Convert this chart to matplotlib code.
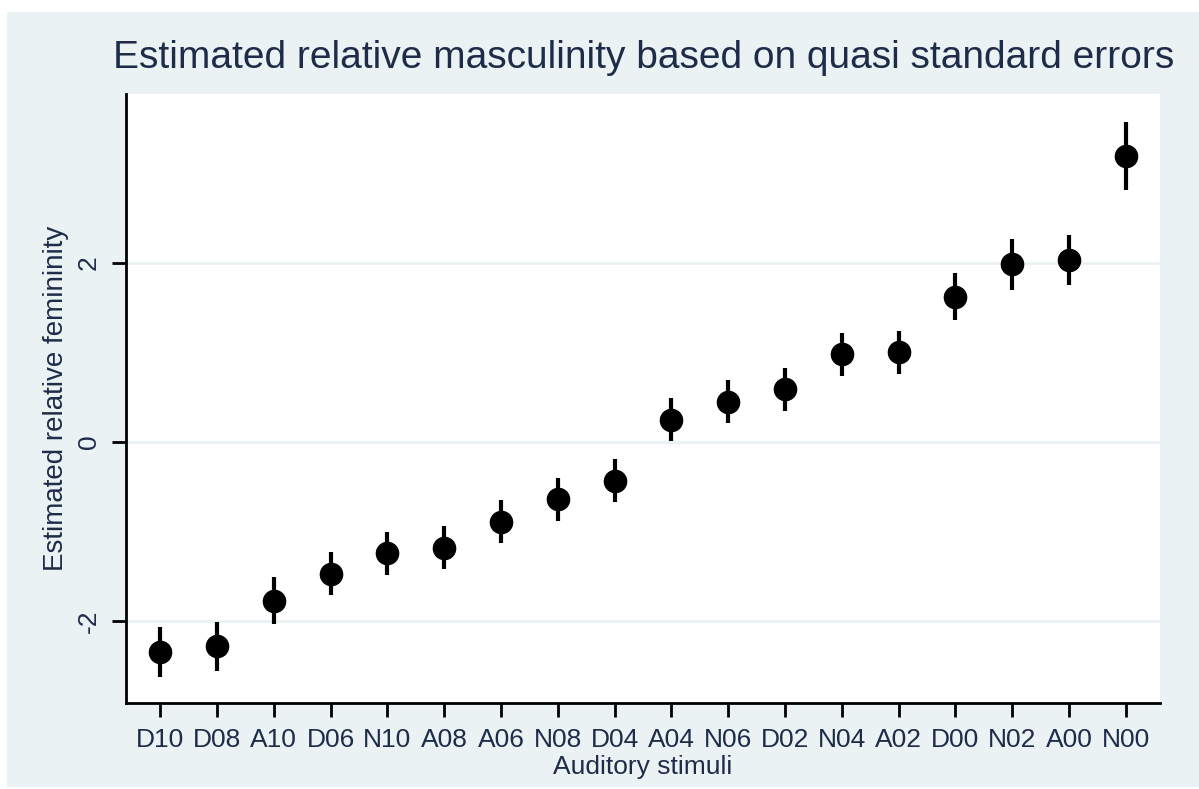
import matplotlib.pyplot as plt
from matplotlib.patches import Rectangle

# Auditory stimuli and estimated relative femininity with quasi standard errors
stimuli = ['D10', 'D08', 'A10', 'D06', 'N10', 'A08', 'A06', 'N08', 'D04',
           'A04', 'N06', 'D02', 'N04', 'A02', 'D00', 'N02', 'A00', 'N00']
estimate = [-2.34, -2.28, -1.77, -1.47, -1.24, -1.18, -0.89, -0.64, -0.43,
            0.25, 0.45, 0.59, 0.98, 1.00, 1.62, 1.98, 2.03, 3.19]
err = [0.28, 0.27, 0.26, 0.24, 0.24, 0.24, 0.24, 0.24, 0.24,
       0.24, 0.24, 0.24, 0.24, 0.24, 0.26, 0.28, 0.28, 0.38]

plt.rcParams['font.family'] = ['Liberation Sans', 'DejaVu Sans']
bg = '#eaf2f3'
navy = '#1e2c4a'

fig = plt.figure(figsize=(11.99, 7.89), dpi=100, facecolor='white')
fig.patches.append(Rectangle((7 / 1199, 2 / 789), 1192 / 1199, 775 / 789,
                             transform=fig.transFigure, facecolor=bg,
                             edgecolor='none', zorder=-10))
ax = fig.add_axes([126 / 1199, 1 - 703 / 789, 1034 / 1199, 609 / 789])
ax.set_facecolor('white')

x = list(range(1, len(stimuli) + 1))
ax.errorbar(x, estimate, yerr=err, fmt='o', color='black', ecolor='black',
            elinewidth=3, markersize=16, capsize=0, zorder=3)

ax.set_xlim(0.4, 18.6)
ax.set_ylim(-2.91, 3.88)
ax.set_xticks(x)
ax.set_xticklabels(stimuli)
ax.set_yticks([-2, 0, 2])
ax.set_yticklabels(['-2', '0', '2'], rotation=90, va='center')
ax.yaxis.grid(True, color=bg, linewidth=2)
ax.set_axisbelow(True)

for s in ['top', 'right']:
    ax.spines[s].set_visible(False)
for s in ['left', 'bottom']:
    ax.spines[s].set_linewidth(2)
    ax.spines[s].set_color('black')
ax.tick_params(axis='both', length=10, width=2, labelsize=19,
               labelcolor=navy, pad=8)

ax.set_xlabel('Auditory stimuli', fontsize=19, color=navy, labelpad=2)
ax.set_ylabel('Estimated relative femininity', fontsize=20, color=navy,
              labelpad=6)
fig.text(0.537, 1 - 58 / 789, 'Estimated relative masculinity based on quasi standard errors',
         ha='center', va='center', fontsize=28, color=navy)

fig.savefig('out.png', dpi=100)
